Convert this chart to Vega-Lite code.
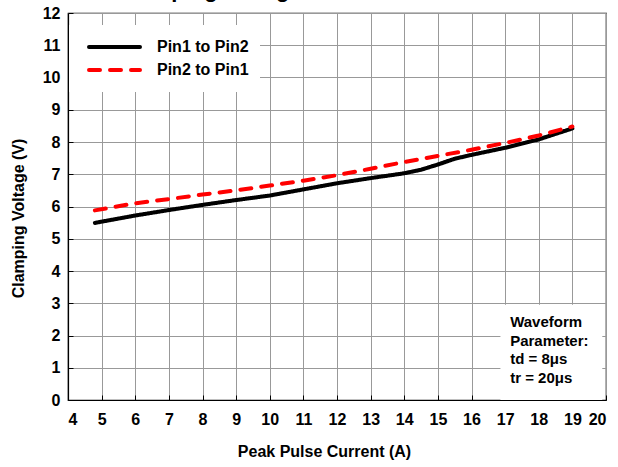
{
  "$schema": "https://vega.github.io/schema/vega-lite/v6.json",
  "width": 538,
  "height": 387,
  "autosize": "none",
  "padding": {"left": 68, "top": 13, "right": 12, "bottom": 67},
  "background": "white",
  "config": {
    "font": "Liberation Sans",
    "view": {"stroke": "black", "strokeWidth": 1.2},
    "axis": {
      "grid": true, "labelOverlap": false, "format": "d",
      "labelFont": "Liberation Sans", "labelFontWeight": "bold", "labelFontSize": 16, "labelColor": "black",
      "titleFont": "Liberation Sans", "titleFontSize": 16, "titleFontWeight": "bold", "titleColor": "black",
      "gridColor": "#999999", "gridOpacity": 1, "gridWidth": 1,
      "domainColor": "black", "domainWidth": 1.2, "tickColor": "black", "tickSize": -5, "tickWidth": 1, "zindex": 1
    },
    "axisX": {"tickCount": 30, "labelPadding": 16, "titlePadding": 16},
    "axisY": {"tickCount": 30, "labelPadding": 13, "titlePadding": 16}
  },
  "encoding": {
    "x": {
      "type": "quantitative",
      "scale": {"domain": [4, 20], "nice": false, "zero": false},
      "axis": {"title": "Peak Pulse Current (A)", "values": [4,5,6,7,8,9,10,11,12,13,14,15,16,17,18,19,20], "tickCount": 30, "format": "d", "titleX": 256}
    },
    "y": {
      "type": "quantitative",
      "scale": {"domain": [0, 12], "nice": false},
      "axis": {"title": "Clamping Voltage (V)", "values": [0,1,2,3,4,5,6,7,8,9,10,11,12], "tickCount": 30, "format": "d", "titleY": 205}
    }
  },
  "layer": [
    {
      "data": {
        "values": [
          {"current": 4.8, "voltage": 5.49, "series": "Pin1 to Pin2"},
          {"current": 5, "voltage": 5.53, "series": "Pin1 to Pin2"},
          {"current": 6, "voltage": 5.72, "series": "Pin1 to Pin2"},
          {"current": 7, "voltage": 5.89, "series": "Pin1 to Pin2"},
          {"current": 8, "voltage": 6.05, "series": "Pin1 to Pin2"},
          {"current": 9, "voltage": 6.2, "series": "Pin1 to Pin2"},
          {"current": 10, "voltage": 6.34, "series": "Pin1 to Pin2"},
          {"current": 11, "voltage": 6.53, "series": "Pin1 to Pin2"},
          {"current": 12, "voltage": 6.72, "series": "Pin1 to Pin2"},
          {"current": 13, "voltage": 6.88, "series": "Pin1 to Pin2"},
          {"current": 14, "voltage": 7.03, "series": "Pin1 to Pin2"},
          {"current": 14.5, "voltage": 7.14, "series": "Pin1 to Pin2"},
          {"current": 15, "voltage": 7.3, "series": "Pin1 to Pin2"},
          {"current": 15.5, "voltage": 7.48, "series": "Pin1 to Pin2"},
          {"current": 16, "voltage": 7.6, "series": "Pin1 to Pin2"},
          {"current": 17, "voltage": 7.82, "series": "Pin1 to Pin2"},
          {"current": 18, "voltage": 8.08, "series": "Pin1 to Pin2"},
          {"current": 19, "voltage": 8.42, "series": "Pin1 to Pin2"},
          {"current": 4.8, "voltage": 5.88, "series": "Pin2 to Pin1"},
          {"current": 6, "voltage": 6.1, "series": "Pin2 to Pin1"},
          {"current": 7, "voltage": 6.23, "series": "Pin2 to Pin1"},
          {"current": 8, "voltage": 6.37, "series": "Pin2 to Pin1"},
          {"current": 9, "voltage": 6.5, "series": "Pin2 to Pin1"},
          {"current": 10, "voltage": 6.65, "series": "Pin2 to Pin1"},
          {"current": 11, "voltage": 6.8, "series": "Pin2 to Pin1"},
          {"current": 12, "voltage": 6.97, "series": "Pin2 to Pin1"},
          {"current": 13, "voltage": 7.17, "series": "Pin2 to Pin1"},
          {"current": 14, "voltage": 7.38, "series": "Pin2 to Pin1"},
          {"current": 15, "voltage": 7.57, "series": "Pin2 to Pin1"},
          {"current": 16, "voltage": 7.76, "series": "Pin2 to Pin1"},
          {"current": 17, "voltage": 7.97, "series": "Pin2 to Pin1"},
          {"current": 18, "voltage": 8.2, "series": "Pin2 to Pin1"},
          {"current": 19, "voltage": 8.48, "series": "Pin2 to Pin1"}
        ]
      },
      "mark": {"type": "line", "strokeWidth": 4, "strokeCap": "round", "strokeJoin": "round"},
      "encoding": {
        "x": {"field": "current"},
        "y": {"field": "voltage"},
        "color": {
          "field": "series", "type": "nominal",
          "scale": {"domain": ["Pin1 to Pin2", "Pin2 to Pin1"], "range": ["#000000", "#ff0000"]},
          "legend": {
            "orient": "none", "legendX": 1, "legendY": 12, "title": null,
            "fillColor": "white", "padding": 11, "symbolType": "stroke",
            "symbolSize": 2601, "symbolStrokeWidth": 4, "symbolOffset": 7,
            "labelOffset": 15, "clipHeight": 22, "rowPadding": 1,
            "labelFont": "Liberation Sans", "labelFontSize": 16, "labelFontWeight": "bold", "labelColor": "black",
            "encode": {"symbols": {"update": {"strokeCap": {"value": "round"}}}}
          }
        },
        "strokeDash": {
          "field": "series", "type": "nominal",
          "scale": {"domain": ["Pin1 to Pin2", "Pin2 to Pin1"], "range": [[1, 0], [11, 10]]}
        }
      }
    },
    {
      "data": {"values": [{"box": "annotation"}]},
      "mark": {"type": "rect", "color": "white"},
      "encoding": {
        "x": {"datum": 16.86},
        "x2": {"datum": 19.89},
        "y": {"datum": 0},
        "y2": {"datum": 2.95}
      }
    },
    {
      "data": {"values": [{"note": "waveform"}]},
      "mark": {"type": "text", "align": "left", "baseline": "alphabetic", "font": "Liberation Sans", "fontSize": 15, "fontWeight": "bold", "color": "black", "lineHeight": 18.5},
      "encoding": {
        "x": {"datum": 17.15},
        "y": {"datum": 2.26},
        "text": {"value": ["Waveform", "Parameter:", "td = 8μs", "tr = 20μs"]}
      }
    },
    {
      "data": {"values": [{"note": "title"}]},
      "mark": {"type": "text", "align": "left", "baseline": "alphabetic", "font": "Liberation Sans", "fontSize": 22, "fontWeight": "bold", "color": "black"},
      "encoding": {
        "x": {"datum": 5.47},
        "y": {"datum": 12.484},
        "text": {"value": "Clamping Voltage vs. Peak Pulse Current"}
      }
    }
  ]
}
